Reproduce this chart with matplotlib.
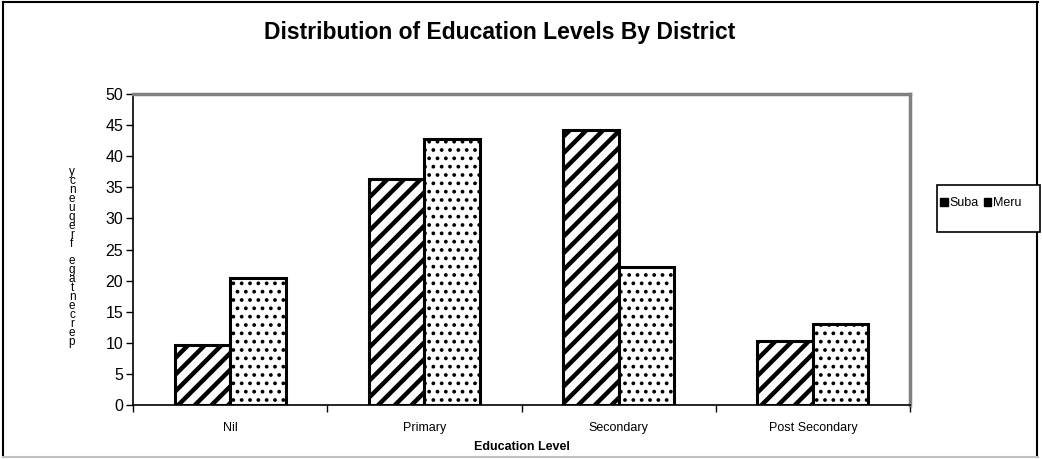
import matplotlib
matplotlib.use("Agg")
import matplotlib.pyplot as plt
import numpy as np
from matplotlib.patches import Rectangle, Patch
from matplotlib.lines import Line2D

plt.rcParams['font.family'] = ['Liberation Sans', 'DejaVu Sans']
plt.rcParams['hatch.linewidth'] = 3.0
plt.rcParams['hatch.color'] = 'black'

categories = ["Nil", "Primary", "Secondary", "Post Secondary"]
suba = [9.6, 36.3, 44.2, 10.3]
meru = [20.4, 42.7, 22.2, 13.1]
series_names = ["Suba", "Meru"]
yticks = [0, 5, 10, 15, 20, 25, 30, 35, 40, 45, 50]
title = "Distribution of Education Levels By District"
xlabel = "Education Level"
ylabel = "percentage frequency"

W, H = 1042, 459
fig = plt.figure(figsize=(W / 100, H / 100), dpi=100)

def fx(px):
    return px / W

def fy(py):
    return 1 - py / H

ax = fig.add_axes([fx(133), fy(405), fx(910) - fx(133), fy(94) - fy(405)])

x = np.arange(len(categories))
bw = 0.286
b1 = ax.bar(x - bw / 2, suba, bw, facecolor='white', edgecolor='black',
            linewidth=2.2, hatch='//', label=series_names[0], zorder=2)
b2 = ax.bar(x + bw / 2, meru, bw, facecolor='white', edgecolor='black',
            linewidth=2.2, hatch='..', label=series_names[1], zorder=2)
for p in b1.patches:
    if hasattr(p, 'set_hatch_linewidth'):
        p.set_hatch_linewidth(3.2)
for p in b2.patches:
    if hasattr(p, 'set_hatch_linewidth'):
        p.set_hatch_linewidth(1.5)

ax.set_xlim(-0.5, len(categories) - 0.5)
ax.set_ylim(0, 50)
ax.set_yticks(yticks)
ax.set_yticklabels([str(v) for v in yticks], fontsize=11.5)
ax.set_xticks(x)
ax.set_xticklabels(categories, fontsize=9)
ax.tick_params(axis='x', length=0, pad=12)
ax.set_xticks(np.arange(-0.5, len(categories)), minor=True)
ax.tick_params(axis='x', which='minor', length=5, width=1, direction='out')
ax.tick_params(axis='y', length=5, width=1, direction='out', pad=2)

for s in ['left', 'bottom']:
    ax.spines[s].set_color('black')
    ax.spines[s].set_linewidth(1.2)
for s in ['top', 'right']:
    ax.spines[s].set_color('#808080')
    ax.spines[s].set_linewidth(2.5)

ax.set_xlabel(xlabel, fontsize=9, fontweight='bold', labelpad=5)

fig.text(fx(500), fy(33), title, ha='center', va='center', fontsize=16.5,
         fontweight='bold')

# vertically stacked (reversed) y label letters
stacked = "\n".join(reversed(list(ylabel)))
fig.text(fx(72), fy(257), stacked, ha='center', va='center', fontsize=8.5,
         linespacing=0.66)

# legend box
fig.patches.append(Rectangle((fx(937), fy(232)), fx(1040) - fx(937),
                             fy(185) - fy(232), transform=fig.transFigure,
                             facecolor='white', edgecolor='black',
                             linewidth=1.2, zorder=3))
handles = [Patch(facecolor='black', edgecolor='black', linewidth=1),
           Patch(facecolor='black', edgecolor='black', linewidth=1)]
leg = fig.legend(handles=handles, labels=series_names, loc='center left',
                 bbox_to_anchor=(fx(940), fy(203)), ncol=2, frameon=False,
                 fontsize=9, handlelength=0.6, handleheight=0.6,
                 handletextpad=0.15, columnspacing=0.4, borderpad=0,
                 borderaxespad=0)
leg.set_zorder(4)

# outer chart border
fig.add_artist(Line2D([fx(3), fx(1038)], [fy(2), fy(2)], color='black', lw=1.5))
fig.add_artist(Line2D([fx(3), fx(3)], [fy(2), fy(457)], color='black', lw=1.5))
fig.add_artist(Line2D([fx(1037), fx(1037)], [fy(2), fy(457)], color='black', lw=1.5))
fig.add_artist(Line2D([fx(3), fx(1038)], [fy(457), fy(457)], color='#c0c0c0', lw=1.5))

fig.savefig("out.png", dpi=100)
